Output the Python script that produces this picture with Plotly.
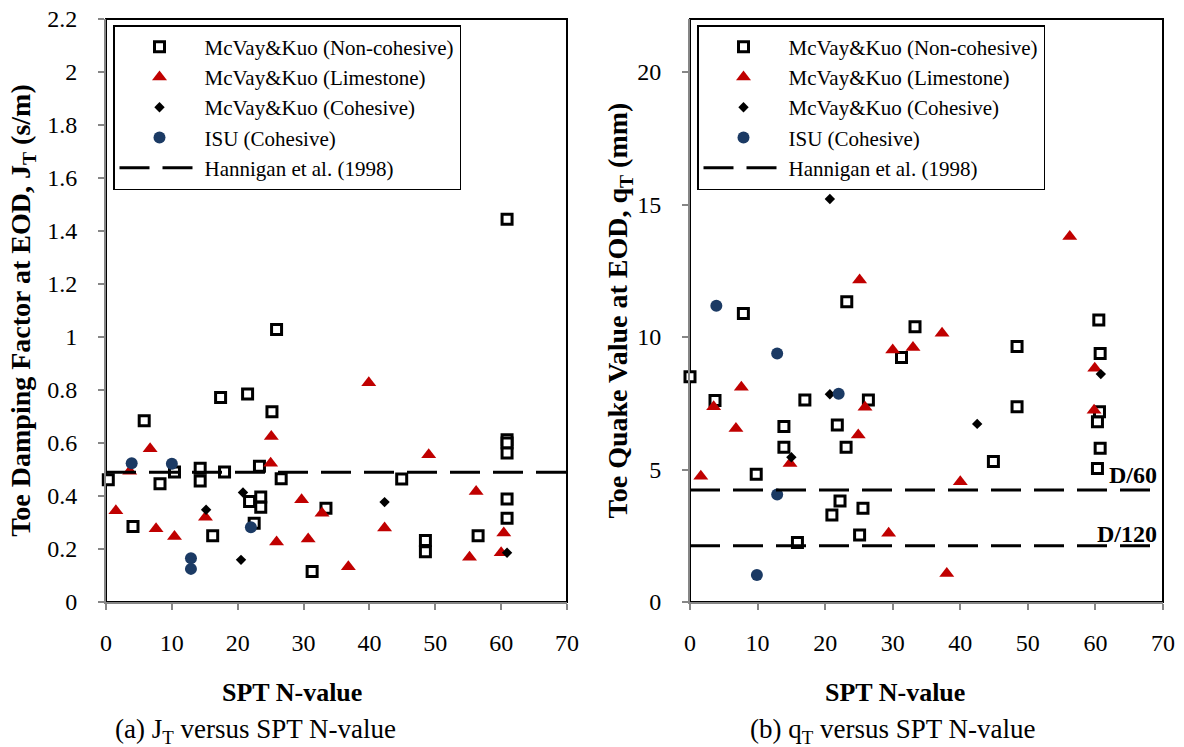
import plotly.graph_objects as go

# ---------------- data: (a) toe damping factor J_T (s/m) ----------------
a_noncoh_n = [0.35, 4.1, 5.8, 8.2, 10.4, 14.3, 14.3, 16.2, 17.4, 18.0, 21.5, 21.8, 22.5, 23.3,
              23.5, 23.5, 25.2, 25.9, 26.6, 31.3, 33.4, 44.9, 48.5, 48.5, 56.5, 60.9, 60.9,
              60.9, 60.9, 60.9, 60.9]
a_noncoh_j = [0.461, 0.285, 0.684, 0.446, 0.491, 0.505, 0.457, 0.25, 0.772, 0.491, 0.785, 0.379,
              0.297, 0.512, 0.396, 0.358, 0.718, 1.028, 0.465, 0.115, 0.354, 0.464, 0.232, 0.19,
              0.25, 1.444, 0.612, 0.600, 0.562, 0.389, 0.316]
a_lime_n = [1.5, 3.6, 6.7, 7.6, 10.4, 15.1, 25.0, 25.1, 25.9, 29.7, 30.7, 32.8, 36.8, 39.9,
            42.3, 49.0, 55.2, 56.2, 60.0, 60.4]
a_lime_j = [0.344, 0.493, 0.578, 0.276, 0.247, 0.32, 0.524, 0.625, 0.226, 0.386, 0.238, 0.335,
            0.133, 0.827, 0.279, 0.556, 0.169, 0.417, 0.186, 0.26]
a_coh_n = [15.2, 20.5, 20.8, 42.3, 60.9]
a_coh_j = [0.348, 0.159, 0.413, 0.377, 0.186]
a_isu_n = [3.9, 10.0, 12.9, 12.9, 22.0]
a_isu_j = [0.524, 0.522, 0.165, 0.125, 0.282]
hannigan_j = 0.49

# ---------------- data: (b) toe quake q_T (mm) ----------------
b_noncoh_n = [0.0, 3.7, 7.9, 9.8, 13.9, 13.9, 15.9, 17.0, 21.0, 21.8, 22.2, 23.1, 23.2, 25.1,
              25.6, 26.4, 31.3, 33.3, 44.9, 48.4, 48.4, 60.3, 60.3, 60.5, 60.6, 60.7, 60.7]
b_noncoh_q = [8.50, 7.60, 10.89, 4.82, 6.62, 5.84, 2.25, 7.62, 3.28, 6.68, 3.81, 5.84, 11.33,
              2.53, 3.54, 7.62, 9.23, 10.39, 5.30, 9.64, 7.37, 6.80, 5.04, 10.64, 7.18, 9.38, 5.80]
b_lime_n = [1.6, 3.5, 6.8, 7.6, 14.8, 24.9, 25.1, 25.9, 29.4, 30.0, 33.0, 37.3, 38.0, 40.0,
            56.2, 59.8, 59.9]
b_lime_q = [4.75, 7.37, 6.55, 8.10, 5.23, 6.30, 12.15, 7.35, 2.59, 9.51, 9.60, 10.14, 1.08,
            4.54, 13.79, 7.24, 8.82]
b_coh_n = [15.0, 20.7, 20.7, 42.5, 60.8]
b_coh_q = [5.46, 15.21, 7.84, 6.72, 8.60]
b_isu_n = [3.9, 9.9, 12.9, 12.9, 22.0]
b_isu_q = [11.18, 1.02, 9.38, 4.06, 7.86]
hannigan_q = [4.23, 2.12]
hannigan_q_labels = ["D/60", "D/120"]

n_range = [0, 70]
series_names = ["McVay&Kuo (Non-cohesive)", "McVay&Kuo (Limestone)",
                "McVay&Kuo (Cohesive)", "ISU (Cohesive)", "Hannigan et al. (1998)"]

# ---------------- styling ----------------
SERIF = "Liberation Serif, Times New Roman, serif"
RED = "#C00000"
NAVY = "#1B3A64"
GRAY = "#868686"

sq = dict(symbol="square", size=10, color="white", line=dict(color="black", width=3))
tri = dict(symbol="triangle-up", size=13, color=RED, line=dict(width=0))
dia = dict(symbol="diamond", size=8, color="black", line=dict(width=0))
cir = dict(symbol="circle", size=12, color=NAVY, line=dict(width=0))
dash_line = dict(color="black", width=3, dash="30px,13px")

fig = go.Figure()


def add_panel(xa, ya, leg, data):
    for (xs, ys), mk, name in zip(data, [sq, tri, dia, cir], series_names[:4]):
        fig.add_trace(go.Scatter(x=xs, y=ys, mode="markers", marker=mk, name=name,
                                 xaxis=xa, yaxis=ya, legend=leg, cliponaxis=False))


add_panel("x", "y", "legend", [(a_noncoh_n, a_noncoh_j), (a_lime_n, a_lime_j),
                               (a_coh_n, a_coh_j), (a_isu_n, a_isu_j)])
fig.add_trace(go.Scatter(x=n_range, y=[hannigan_j, hannigan_j], mode="lines", line=dash_line,
                         name=series_names[4], xaxis="x", yaxis="y", legend="legend"))

add_panel("x2", "y2", "legend2", [(b_noncoh_n, b_noncoh_q), (b_lime_n, b_lime_q),
                                  (b_coh_n, b_coh_q), (b_isu_n, b_isu_q)])
for i, qv in enumerate(hannigan_q):
    fig.add_trace(go.Scatter(x=n_range, y=[qv, qv], mode="lines", line=dash_line,
                             name=series_names[4], xaxis="x2", yaxis="y2", legend="legend2",
                             showlegend=(i == 0)))

W, H = 1184, 747
xdom1 = [106 / W, 567 / W]
xdom2 = [690 / W, 1163 / W]
ydom = [1 - 602 / H, 1 - 19 / H]

tickfont = dict(family=SERIF, size=24, color="black")
common_x = dict(range=n_range, dtick=10, showgrid=False, zeroline=False, showline=True,
                linecolor=GRAY, linewidth=2, ticks="outside", ticklen=6, tickcolor=GRAY,
                tickwidth=1.5, tickfont=tickfont, ticklabelstandoff=12, automargin=False)
common_y = dict(showgrid=False, zeroline=False, showline=True, linecolor=GRAY, linewidth=2,
                ticks="outside", ticklen=6, tickcolor=GRAY, tickwidth=1.5, tickfont=tickfont,
                ticklabelstandoff=16, automargin=False)
ytitle_font = dict(family=SERIF, size=28, color="black")

legend_common = dict(font=dict(family=SERIF, size=21, color="black"), bgcolor="white",
                     bordercolor="black", borderwidth=1.5, xanchor="left", yanchor="top",
                     itemwidth=80, traceorder="normal")

fig.update_layout(
    width=W, height=H, margin=dict(l=0, r=0, t=0, b=0),
    paper_bgcolor="white", plot_bgcolor="white",
    font=dict(family=SERIF, color="black"),
    xaxis=dict(domain=xdom1, anchor="y", **common_x),
    yaxis=dict(domain=ydom, anchor="x", range=[0, 2.2], dtick=0.2,
               title=dict(text="<b>Toe Damping Factor at EOD, J<sub>T</sub> (s/m)</b>",
                          font=ytitle_font, standoff=8), **common_y),
    xaxis2=dict(domain=xdom2, anchor="y2", **common_x),
    yaxis2=dict(domain=ydom, anchor="x2", range=[0, 22], dtick=5,
                title=dict(text="<b>Toe Quake Value at EOD, q<sub>T</sub> (mm)</b>",
                           font=ytitle_font, standoff=1), **common_y),
    legend=dict(x=113 / W, y=1 - 25 / H, **legend_common),
    legend2=dict(x=697 / W, y=1 - 25 / H, **legend_common),
    showlegend=True,
)

# plot-area frames
for xr, yr in [("x domain", "y domain"), ("x2 domain", "y2 domain")]:
    fig.add_shape(type="rect", xref=xr, yref=yr, x0=0, x1=1, y0=0, y1=1,
                  line=dict(color="black", width=2), fillcolor="rgba(0,0,0,0)", layer="below")

# D/60, D/120 labels
for qv, lab, ys in zip(hannigan_q, hannigan_q_labels, [0, -3]):
    fig.add_annotation(text="<b>%s</b>" % lab, x=1, xref="x2 domain", y=qv, yref="y2",
                       xanchor="right", yanchor="bottom", xshift=-4, yshift=ys, showarrow=False,
                       font=dict(family=SERIF, size=24, color="black"))

# x titles and captions
for xc_title, xc_cap, cap in [(292, 255, "(a) J<sub>T</sub> versus SPT N-value"),
                              (895, 893, "(b) q<sub>T</sub> versus SPT N-value")]:
    fig.add_annotation(text="<b>SPT N-value</b>", x=xc_title / W, y=1 - 692 / H, xref="paper",
                       yref="paper", xanchor="center", yanchor="middle", showarrow=False,
                       font=dict(family=SERIF, size=26, color="black"))
    fig.add_annotation(text=cap, x=xc_cap / W, y=1 - 731 / H, xref="paper", yref="paper",
                       xanchor="center", yanchor="middle", showarrow=False,
                       font=dict(family=SERIF, size=27, color="black"))

fig.write_html("out.html", config={"displayModeBar": False},
               post_script="document.body.style.margin='0';document.body.style.overflow='hidden';")
